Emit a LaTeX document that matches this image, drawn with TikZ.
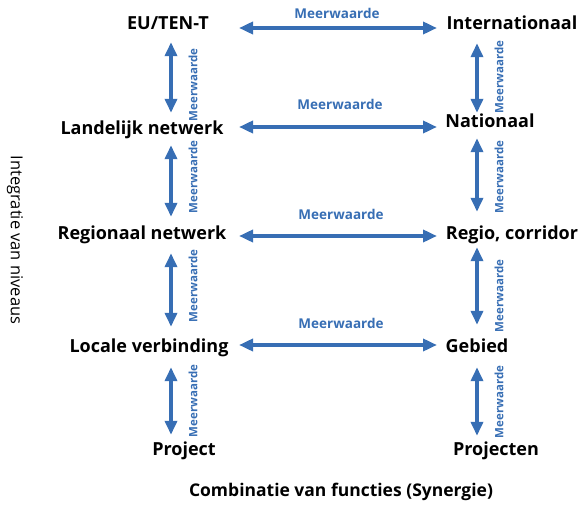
\documentclass[tikz,border=0pt]{standalone}
\usepackage{fontspec}
\setmainfont{Open Sans}
\usetikzlibrary{arrows.meta}

\definecolor{mwblue}{RGB}{55,110,180}
\tikzset{
  niveau/.style={font=\bfseries\fontsize{18}{18}\selectfont, inner sep=0pt, text height=11pt, text depth=3pt},
  mw/.style={font=\bfseries\fontsize{13.5}{13.5}\selectfont, text=mwblue, inner sep=0pt},
  mwv/.style={mw, font=\bfseries\fontsize{11.5}{11.5}\selectfont, rotate=90},
  dbl/.style={<->, line width=4pt, draw=mwblue},
  as/.style={font=\fontsize{16.5}{16.5}\selectfont, inner sep=0pt}
}

\begin{document}
\begin{tikzpicture}
					[x=1pt, y=-1pt, >={Triangle[length=14pt,width=12pt]}]
					\useasboundingbox (0,0) rectangle (579,506);
					% niveaus links
					\node[niveau] (eu) at (168,25) {EU/TEN-T};
					\node[niveau] (land) at (142,130) {Landelijk netwerk};
					\node[niveau] (reg) at (142,235) {Regionaal netwerk};
					\node[niveau] (loc) at (149,348) {Locale verbinding};
					\node[niveau] (proj) at (184,451) {Project};
					% niveaus rechts
					\node[niveau] (intl) at (512,25) {Internationaal};
					\node[niveau] (nat) at (490,123) {Nationaal};
					\node[niveau] (regio) at (512,235) {Regio, corridor};
					\node[niveau] (geb) at (477,348) {Gebied};
					\node[niveau] (projn) at (496,451) {Projecten};
					% kolommen voor de pijlen
					\coordinate (lx) at (171,0);
					\coordinate (rx) at (477,0);
					\coordinate (ha) at (239,0);
					\coordinate (hb) at (437,0);
					% horizontale pijlen
					\draw[dbl] ([yshift=-3pt]ha |- eu) -- ([yshift=-3pt]hb |- intl);
					\draw[dbl] ([yshift=3pt]ha |- land) -- ([yshift=3pt]hb |- land);
					\draw[dbl] ([yshift=-1pt]ha |- reg) -- ([yshift=-1pt]hb |- regio);
					\draw[dbl] ([yshift=3pt]ha |- loc) -- ([yshift=3pt]hb |- geb);
					\node[mw] (m1) at (337,13) {Meerwaarde};
					\node[mw] (m2) at (340,104) {Meerwaarde};
					\node[mw] (m3) at (341,214) {Meerwaarde};
					\node[mw] (m4) at (341,323) {Meerwaarde};
					% verticale pijlen links
					\draw[dbl, shorten <=10pt, shorten >=10pt] (lx |- eu.south) -- (lx |- land.north);
					\draw[dbl, shorten <=8pt, shorten >=11pt] (lx |- land.south) -- (lx |- reg.north);
					\draw[dbl, shorten <=11pt, shorten >=14pt] (lx |- reg.south) -- (lx |- loc.north);
					\draw[dbl, shorten <=12pt, shorten >=9pt] (lx |- loc.south) -- (lx |- proj.north);
					% verticale pijlen rechts
					\draw[dbl, shorten <=11pt, shorten >=3pt] (rx |- intl.south) -- (rx |- nat.north);
					\draw[dbl, shorten <=8pt, shorten >=16pt] (rx |- nat.south) -- (rx |- regio.north);
					\draw[dbl, shorten <=5pt, shorten >=16pt] (rx |- regio.south) -- (rx |- geb.north);
					\draw[dbl, shorten <=12pt, shorten >=8pt] (rx |- geb.south) -- (rx |- projn.north);
					\node[mwv] (v1) at (193,85) {Meerwaarde};
					\node[mwv] (v2) at (193,177) {Meerwaarde};
					\node[mwv] (v3) at (193,286) {Meerwaarde};
					\node[mwv] (v4) at (193,401) {Meerwaarde};
					\node[mwv] (w1) at (499,77) {Meerwaarde};
					\node[mwv] (w2) at (499,177) {Meerwaarde};
					\node[mwv] (w3) at (499,296) {Meerwaarde};
					\node[mwv] (w4) at (499,402) {Meerwaarde};
					% assen
					\node[as, rotate=-90] (yas) at (15,240) {Integratie van niveaus};
					\node[as, font=\bfseries\fontsize{17.5}{17.5}\selectfont] (xas) at (341,492) {Combinatie van functies (Synergie)};
				\end{tikzpicture}
\end{document}
